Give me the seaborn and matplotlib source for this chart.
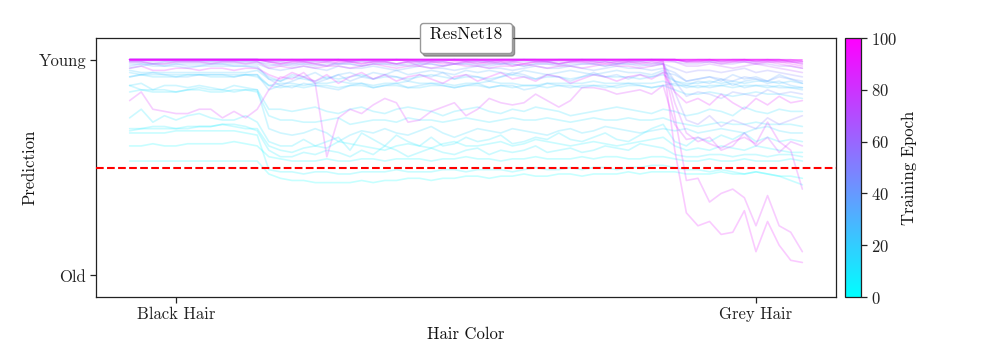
import numpy as np
import pandas as pd
import matplotlib
matplotlib.use("Agg")
import matplotlib.pyplot as plt
import seaborn as sns
from matplotlib.cm import ScalarMappable
from matplotlib.colors import Normalize

# ---------------- data ----------------
# 59 points along the hair-colour path: 12 black-hair images, 35 intermediate, 12 grey-hair images
tick_positions = [4, 54]
tick_labels = ["Black Hair", "Grey Hair"]
y_ticks = [0, 1]
y_labels = ["Old", "Young"]

ep00 = [0.53,0.53,0.53,0.53,0.53,0.53,0.53,0.53,0.53,0.53,0.53,0.53] + \
       [0.47,0.45,0.44,0.44,0.43,0.43,0.43,0.43,0.44,0.43,0.44,0.44,0.45,0.45,0.44,0.45,0.45,0.46,0.46,0.45,0.46,0.46,0.47,0.46,0.46,0.47,0.47,0.46,0.47,0.47,0.47,0.48,0.47,0.48,0.48] + \
       [0.48,0.47,0.47,0.47,0.48,0.47,0.47,0.48,0.47,0.46,0.46,0.45]
ep02 = [0.60,0.60,0.61,0.60,0.60,0.61,0.61,0.61,0.61,0.62,0.61,0.60] + \
       [0.55,0.54,0.53,0.53,0.53,0.54,0.53,0.53,0.54,0.54,0.53,0.54,0.54,0.54,0.53,0.54,0.54,0.55,0.54,0.54,0.53,0.54,0.54,0.55,0.54,0.54,0.54,0.55,0.54,0.55,0.55,0.54,0.54,0.55,0.55] + \
       [0.54,0.53,0.53,0.54,0.53,0.53,0.54,0.53,0.53,0.53,0.54,0.53]
ep04 = [0.66,0.66,0.66,0.66,0.67,0.67,0.67,0.67,0.67,0.67,0.66,0.65] + \
       [0.49,0.48,0.48,0.47,0.48,0.48,0.47,0.47,0.48,0.48,0.48,0.49,0.48,0.48,0.48,0.49,0.49,0.48,0.49,0.49,0.49,0.48,0.49,0.50,0.49,0.49,0.50,0.49,0.50,0.50,0.49,0.50,0.50,0.51,0.51] + \
       [0.50,0.49,0.49,0.48,0.49,0.48,0.47,0.48,0.47,0.46,0.44,0.42]
ep06 = [0.68,0.68,0.68,0.68,0.68,0.69,0.69,0.69,0.70,0.69,0.68,0.68] + \
       [0.60,0.58,0.57,0.59,0.60,0.59,0.62,0.61,0.60,0.59,0.58,0.60,0.61,0.60,0.59,0.61,0.62,0.60,0.60,0.61,0.62,0.60,0.61,0.63,0.62,0.61,0.60,0.61,0.62,0.61,0.60,0.61,0.62,0.63,0.64] + \
       [0.60,0.58,0.59,0.58,0.60,0.59,0.58,0.60,0.59,0.58,0.57,0.57]
ep08 = [0.67,0.68,0.69,0.69,0.68,0.68,0.69,0.69,0.70,0.70,0.69,0.67] + \
       [0.58,0.55,0.55,0.57,0.56,0.58,0.57,0.55,0.58,0.56,0.60,0.58,0.55,0.57,0.59,0.57,0.56,0.58,0.59,0.56,0.58,0.57,0.58,0.60,0.57,0.58,0.59,0.57,0.58,0.60,0.59,0.58,0.61,0.60,0.59] + \
       [0.56,0.55,0.55,0.56,0.56,0.55,0.56,0.56,0.55,0.56,0.56,0.55]
ep10 = [0.73,0.77,0.71,0.74,0.72,0.74,0.75,0.73,0.72,0.72,0.74,0.71] + \
       [0.62,0.60,0.60,0.63,0.60,0.62,0.64,0.58,0.66,0.63,0.60,0.65,0.62,0.60,0.64,0.60,0.61,0.64,0.62,0.63,0.65,0.61,0.62,0.64,0.63,0.66,0.63,0.62,0.64,0.66,0.63,0.62,0.65,0.68,0.70] + \
       [0.62,0.60,0.64,0.62,0.65,0.63,0.66,0.62,0.64,0.62,0.63,0.62]
ep12 = [0.85,0.86,0.85,0.85,0.85,0.86,0.86,0.85,0.85,0.86,0.86,0.85] + \
       [0.74,0.72,0.72,0.71,0.71,0.72,0.73,0.70,0.71,0.72,0.72,0.71,0.73,0.72,0.72,0.71,0.72,0.73,0.72,0.71,0.72,0.73,0.72,0.72,0.73,0.72,0.71,0.72,0.73,0.72,0.72,0.73,0.72,0.72,0.73] + \
       [0.71,0.70,0.69,0.70,0.71,0.70,0.70,0.71,0.70,0.70,0.70,0.69]
ep14 = [0.88,0.86,0.86,0.86,0.85,0.86,0.87,0.86,0.86,0.85,0.86,0.86] + \
       [0.77,0.77,0.76,0.77,0.78,0.76,0.75,0.77,0.78,0.76,0.75,0.77,0.78,0.77,0.76,0.74,0.76,0.77,0.78,0.76,0.75,0.77,0.76,0.78,0.77,0.76,0.74,0.75,0.76,0.77,0.78,0.77,0.76,0.75,0.77] + \
       [0.76,0.74,0.75,0.77,0.76,0.74,0.78,0.76,0.75,0.77,0.76,0.76]
ep16 = [0.88,0.89,0.86,0.88,0.88,0.87,0.88,0.87,0.86,0.88,0.87,0.86] + \
       [0.68,0.66,0.65,0.66,0.68,0.66,0.62,0.65,0.67,0.66,0.68,0.66,0.65,0.67,0.69,0.66,0.64,0.66,0.68,0.67,0.66,0.68,0.67,0.66,0.65,0.67,0.68,0.66,0.67,0.69,0.68,0.67,0.66,0.67,0.68] + \
       [0.67,0.68,0.66,0.67,0.68,0.67,0.66,0.68,0.69,0.67,0.66,0.66]
ep18 = [0.92,0.93,0.92,0.92,0.92,0.93,0.93,0.92,0.92,0.92,0.93,0.92] + \
       [0.88,0.87,0.88,0.87,0.88,0.88,0.87,0.88,0.88,0.87,0.88,0.88,0.87,0.87,0.88,0.88,0.87,0.88,0.88,0.87,0.88,0.87,0.88,0.88,0.87,0.88,0.88,0.87,0.88,0.88,0.87,0.88,0.88,0.87,0.88] + \
       [0.86,0.84,0.84,0.85,0.84,0.83,0.84,0.85,0.84,0.84,0.83,0.82]
ep20 = [0.94,0.93,0.93,0.93,0.93,0.93,0.93,0.93,0.93,0.93,0.93,0.93] + \
       [0.88,0.89,0.89,0.88,0.89,0.89,0.90,0.89,0.89,0.88,0.89,0.89,0.90,0.89,0.89,0.89,0.88,0.89,0.89,0.90,0.89,0.89,0.88,0.88,0.89,0.89,0.89,0.89,0.90,0.89,0.89,0.89,0.89,0.89,0.90] + \
       [0.88,0.88,0.87,0.88,0.88,0.87,0.88,0.88,0.87,0.88,0.87,0.87]
ep22 = [0.95,0.94,0.94,0.94,0.94,0.94,0.94,0.94,0.94,0.94,0.94,0.95] + \
       [0.91,0.90,0.92,0.91,0.90,0.92,0.91,0.92,0.93,0.91,0.92,0.92,0.91,0.92,0.93,0.92,0.91,0.92,0.92,0.91,0.92,0.93,0.92,0.91,0.92,0.92,0.91,0.92,0.93,0.92,0.92,0.92,0.91,0.92,0.93] + \
       [0.90,0.89,0.89,0.90,0.89,0.90,0.89,0.90,0.90,0.89,0.90,0.89]
ep25 = [0.92,0.93,0.94,0.93,0.92,0.92,0.93,0.93,0.93,0.92,0.93,0.93] + \
       [0.86,0.88,0.87,0.89,0.88,0.87,0.86,0.88,0.89,0.87,0.88,0.89,0.87,0.88,0.89,0.88,0.87,0.88,0.89,0.87,0.88,0.88,0.86,0.87,0.89,0.88,0.87,0.88,0.88,0.87,0.88,0.89,0.88,0.87,0.88] + \
       [0.89,0.87,0.88,0.87,0.88,0.89,0.87,0.88,0.88,0.87,0.87,0.86]
ep30 = [0.96,0.97,0.98,0.97,0.97,0.96,0.97,0.97,0.97,0.97,0.97,0.96] + \
       [0.92,0.90,0.93,0.92,0.94,0.91,0.93,0.94,0.92,0.94,0.93,0.95,0.93,0.94,0.95,0.94,0.93,0.95,0.94,0.95,0.94,0.93,0.95,0.94,0.93,0.94,0.95,0.94,0.93,0.94,0.95,0.94,0.94,0.93,0.95] + \
       [0.90,0.88,0.90,0.89,0.91,0.88,0.90,0.91,0.89,0.90,0.88,0.87]
ep35 = [0.97,0.98,0.97,0.97,0.98,0.97,0.97,0.98,0.98,0.97,0.97,0.97] + \
       [0.91,0.88,0.90,0.92,0.89,0.91,0.93,0.90,0.92,0.91,0.93,0.92,0.90,0.93,0.92,0.94,0.91,0.93,0.92,0.90,0.92,0.94,0.93,0.91,0.93,0.92,0.90,0.92,0.94,0.92,0.93,0.91,0.93,0.92,0.94] + \
       [0.93,0.90,0.91,0.92,0.90,0.93,0.91,0.92,0.90,0.93,0.91,0.89]
ep40 = [0.98,0.98,0.98,0.98,0.98,0.98,0.98,0.98,0.98,0.98,0.98,0.98] + \
       [0.96,0.95,0.96,0.97,0.96,0.95,0.97,0.96,0.96,0.97,0.96,0.95,0.96,0.97,0.96,0.96,0.95,0.96,0.97,0.96,0.96,0.95,0.96,0.97,0.96,0.96,0.97,0.96,0.95,0.96,0.97,0.96,0.96,0.95,0.96] + \
       [0.94,0.90,0.91,0.92,0.91,0.90,0.92,0.91,0.90,0.92,0.91,0.90]
ep45 = [0.99,0.99,0.98,0.99,0.99,0.99,0.99,0.99,0.99,0.99,0.99,0.99] + \
       [0.97,0.98,0.97,0.98,0.98,0.97,0.98,0.98,0.97,0.98,0.98,0.98,0.97,0.98,0.98,0.97,0.98,0.98,0.98,0.97,0.98,0.98,0.97,0.98,0.98,0.98,0.97,0.98,0.98,0.97,0.98,0.98,0.98,0.97,0.98] + \
       [0.90,0.83,0.85,0.84,0.82,0.85,0.84,0.83,0.86,0.84,0.85,0.84]
ep50 = [0.99,0.99,0.99,0.99,0.99,0.99,0.99,0.99,0.99,0.99,0.99,0.99] + \
       [0.98,0.97,0.98,0.98,0.97,0.98,0.98,0.98,0.97,0.98,0.98,0.97,0.98,0.98,0.98,0.97,0.98,0.98,0.97,0.98,0.98,0.98,0.97,0.98,0.98,0.97,0.98,0.98,0.98,0.97,0.98,0.98,0.97,0.98,0.98] + \
       [0.96,0.94,0.95,0.95,0.94,0.95,0.96,0.94,0.95,0.94,0.93,0.92]
ep55 = [1.00,1.00,1.00,1.00,1.00,1.00,1.00,1.00,1.00,1.00,1.00,1.00] + \
       [0.99,0.99,0.98,0.99,0.99,0.99,0.98,0.99,0.99,0.99,0.99,0.98,0.99,0.99,0.99,0.99,0.98,0.99,0.99,0.99,0.98,0.99,0.99,0.99,0.99,0.98,0.99,0.99,0.99,0.99,0.98,0.99,0.99,0.99,0.98] + \
       [0.85,0.72,0.70,0.74,0.69,0.72,0.70,0.68,0.73,0.70,0.72,0.74]
ep60 = [1.00,1.00,1.00,1.00,1.00,1.00,1.00,1.00,1.00,1.00,1.00,1.00] + \
       [1.00,1.00,0.99,1.00,1.00,1.00,1.00,0.99,1.00,1.00,1.00,1.00,1.00,0.99,1.00,1.00,1.00,1.00,1.00,0.99,1.00,1.00,1.00,1.00,0.99,1.00,1.00,1.00,1.00,1.00,0.99,1.00,1.00,1.00,1.00] + \
       [0.99,0.98,0.98,0.99,0.98,0.98,0.99,0.98,0.98,0.97,0.97,0.96]
ep65 = [1.00,1.00,1.00,1.00,1.00,1.00,1.00,1.00,1.00,1.00,1.00,1.00] + \
       [1.00,1.00,1.00,1.00,1.00,1.00,1.00,1.00,1.00,1.00,1.00,1.00,1.00,1.00,1.00,1.00,1.00,1.00,1.00,1.00,1.00,1.00,1.00,1.00,1.00,1.00,1.00,1.00,1.00,1.00,1.00,1.00,1.00,1.00,1.00] + \
       [1.00,0.99,0.99,0.99,0.99,0.99,0.99,0.99,0.99,0.99,0.99,0.98]
ep70 = [1.00,1.00,1.00,1.00,1.00,1.00,1.00,1.00,1.00,1.00,1.00,1.00] + \
       [0.99,0.99,1.00,0.99,0.99,0.99,1.00,0.99,0.99,0.99,0.99,1.00,0.99,0.99,0.99,0.99,1.00,0.99,0.99,0.99,0.99,0.99,1.00,0.99,0.99,0.99,0.99,1.00,0.99,0.99,0.99,0.99,0.99,1.00,0.99] + \
       [0.99,0.97,0.97,0.98,0.97,0.96,0.97,0.98,0.97,0.96,0.95,0.94]
ep75 = [1.00,1.00,1.00,1.00,1.00,1.00,1.00,1.00,1.00,1.00,1.00,1.00] + \
       [1.00,1.00,1.00,1.00,1.00,1.00,1.00,1.00,1.00,1.00,1.00,1.00,1.00,1.00,1.00,1.00,1.00,1.00,1.00,1.00,1.00,1.00,1.00,1.00,1.00,1.00,1.00,1.00,1.00,1.00,1.00,1.00,1.00,1.00,1.00] + \
       [1.00,0.99,1.00,1.00,0.99,1.00,1.00,0.99,1.00,1.00,0.99,0.99]
ep80 = [1.00,1.00,1.00,1.00,1.00,1.00,1.00,1.00,1.00,1.00,1.00,1.00] + \
       [0.99,0.98,0.99,0.99,0.98,0.97,0.99,0.99,0.98,0.99,0.99,0.98,0.99,0.97,0.99,0.99,0.98,0.99,0.99,0.98,0.99,0.97,0.98,0.99,0.99,0.98,0.99,0.99,0.98,0.99,0.98,0.99,0.99,0.98,0.99] + \
       [0.80,0.66,0.62,0.64,0.58,0.60,0.66,0.60,0.64,0.57,0.62,0.60]
ep82 = [1.00,1.00,1.00,1.00,1.00,1.00,1.00,1.00,1.00,1.00,1.00,1.00] + \
       [1.00,1.00,1.00,1.00,1.00,1.00,1.00,1.00,1.00,1.00,1.00,1.00,1.00,1.00,1.00,1.00,1.00,1.00,1.00,1.00,1.00,1.00,1.00,1.00,1.00,1.00,1.00,1.00,1.00,1.00,1.00,1.00,1.00,1.00,1.00] + \
       [1.00,1.00,1.00,1.00,1.00,1.00,1.00,1.00,1.00,1.00,1.00,0.99]
ep84 = [1.00,1.00,1.00,1.00,1.00,1.00,1.00,1.00,1.00,1.00,1.00,1.00] + \
       [1.00,1.00,1.00,1.00,1.00,1.00,1.00,1.00,1.00,1.00,1.00,1.00,1.00,1.00,1.00,1.00,1.00,1.00,1.00,1.00,1.00,1.00,1.00,1.00,1.00,1.00,1.00,1.00,1.00,1.00,1.00,1.00,1.00,1.00,1.00] + \
       [1.00,0.99,0.99,0.99,0.98,0.99,0.99,0.98,0.99,0.98,0.97,0.96]
ep85 = [0.81,0.85,0.77,0.76,0.75,0.75,0.77,0.77,0.73,0.76,0.73,0.77] + \
       [0.86,0.92,0.91,0.94,0.89,0.55,0.73,0.77,0.75,0.79,0.82,0.80,0.71,0.72,0.76,0.78,0.80,0.74,0.77,0.82,0.80,0.79,0.80,0.84,0.81,0.78,0.81,0.87,0.87,0.86,0.84,0.85,0.86,0.84,0.88] + \
       [0.70,0.63,0.64,0.61,0.59,0.62,0.64,0.61,0.71,0.62,0.58,0.40]
ep86 = [1.00,1.00,1.00,1.00,1.00,1.00,1.00,1.00,1.00,1.00,1.00,1.00] + \
       [1.00,1.00,1.00,1.00,1.00,1.00,1.00,1.00,1.00,1.00,1.00,1.00,1.00,1.00,1.00,1.00,1.00,1.00,1.00,1.00,1.00,1.00,1.00,1.00,1.00,1.00,1.00,1.00,1.00,1.00,1.00,1.00,1.00,1.00,1.00] + \
       [1.00,1.00,1.00,1.00,1.00,1.00,1.00,1.00,1.00,1.00,1.00,1.00]
ep88 = [0.99,0.99,0.98,0.98,0.99,0.99,0.99,0.98,0.99,0.99,0.98,0.99] + \
       [0.96,0.97,0.96,0.97,0.96,0.97,0.97,0.96,0.97,0.98,0.97,0.96,0.97,0.97,0.96,0.97,0.98,0.97,0.97,0.96,0.97,0.97,0.98,0.97,0.96,0.97,0.97,0.96,0.97,0.98,0.97,0.97,0.96,0.97,0.98] + \
       [0.74,0.44,0.45,0.34,0.38,0.40,0.36,0.23,0.37,0.23,0.20,0.11]
ep90 = [0.96,0.97,0.95,0.95,0.96,0.96,0.95,0.96,0.96,0.95,0.96,0.96] + \
       [0.93,0.91,0.94,0.92,0.90,0.93,0.89,0.92,0.94,0.91,0.93,0.90,0.92,0.93,0.91,0.89,0.92,0.93,0.90,0.92,0.94,0.91,0.92,0.90,0.93,0.92,0.89,0.91,0.93,0.92,0.90,0.92,0.93,0.91,0.94] + \
       [0.85,0.80,0.82,0.79,0.84,0.80,0.77,0.82,0.79,0.83,0.80,0.81]
ep92 = [1.00,1.00,1.00,1.00,1.00,1.00,1.00,1.00,1.00,1.00,1.00,1.00] + \
       [0.99,0.98,0.99,0.99,0.98,0.99,0.99,0.99,0.98,0.99,0.99,0.98,0.99,0.99,0.99,0.98,0.99,0.99,0.98,0.99,0.99,0.99,0.98,0.99,0.99,0.98,0.99,0.99,0.99,0.98,0.99,0.99,0.98,0.99,0.99] + \
       [0.58,0.29,0.23,0.25,0.19,0.20,0.30,0.11,0.25,0.14,0.07,0.06]
ep94 = [1.00,1.00,1.00,1.00,1.00,1.00,1.00,1.00,1.00,1.00,1.00,1.00] + \
       [1.00,1.00,1.00,1.00,1.00,1.00,1.00,1.00,1.00,1.00,1.00,1.00,1.00,1.00,1.00,1.00,1.00,1.00,1.00,1.00,1.00,1.00,1.00,1.00,1.00,1.00,1.00,1.00,1.00,1.00,1.00,1.00,1.00,1.00,1.00] + \
       [1.00,1.00,1.00,1.00,1.00,1.00,1.00,1.00,1.00,0.99,0.99,0.98]
ep95 = [1.00,1.00,1.00,1.00,1.00,1.00,1.00,1.00,1.00,1.00,1.00,1.00] + \
       [1.00,1.00,1.00,1.00,1.00,1.00,1.00,1.00,1.00,1.00,1.00,1.00,1.00,1.00,1.00,1.00,1.00,1.00,1.00,1.00,1.00,1.00,1.00,1.00,1.00,1.00,1.00,1.00,1.00,1.00,1.00,1.00,1.00,1.00,1.00] + \
       [1.00,0.99,0.99,1.00,0.99,0.99,1.00,0.99,0.99,0.99,0.98,0.97]
ep96 = [1.00,1.00,1.00,1.00,1.00,1.00,1.00,1.00,1.00,1.00,1.00,1.00] + \
       [1.00,1.00,1.00,1.00,1.00,1.00,1.00,1.00,1.00,1.00,1.00,1.00,1.00,1.00,1.00,1.00,1.00,1.00,1.00,1.00,1.00,1.00,1.00,1.00,1.00,1.00,1.00,1.00,1.00,1.00,1.00,1.00,1.00,1.00,1.00] + \
       [1.00,1.00,1.00,1.00,1.00,1.00,1.00,1.00,1.00,1.00,1.00,1.00]
ep98 = [1.00,1.00,1.00,1.00,1.00,1.00,1.00,1.00,1.00,1.00,1.00,1.00] + \
       [1.00,1.00,1.00,1.00,1.00,1.00,1.00,1.00,1.00,1.00,1.00,1.00,1.00,1.00,1.00,1.00,1.00,1.00,1.00,1.00,1.00,1.00,1.00,1.00,1.00,1.00,1.00,1.00,1.00,1.00,1.00,1.00,1.00,1.00,1.00] + \
       [1.00,1.00,1.00,1.00,1.00,1.00,1.00,1.00,1.00,1.00,0.99,0.99]
ep100 = [1.00,1.00,1.00,1.00,1.00,1.00,1.00,1.00,1.00,1.00,1.00,1.00] + \
        [1.00,1.00,1.00,1.00,1.00,1.00,1.00,1.00,1.00,1.00,1.00,1.00,1.00,1.00,1.00,1.00,1.00,1.00,1.00,1.00,1.00,1.00,1.00,1.00,1.00,1.00,1.00,1.00,1.00,1.00,1.00,1.00,1.00,1.00,1.00] + \
        [1.00,1.00,1.00,1.00,1.00,1.00,1.00,1.00,1.00,1.00,1.00,1.00]

epochs = [0, 2, 4, 6, 8, 10, 12, 14, 16, 18, 20, 22, 25, 30, 35, 40, 45, 50, 55,
          60, 65, 70, 75, 80, 82, 84, 85, 86, 88, 90, 92, 94, 95, 96, 98, 100]
series = [ep00, ep02, ep04, ep06, ep08, ep10, ep12, ep14, ep16, ep18, ep20, ep22, ep25,
          ep30, ep35, ep40, ep45, ep50, ep55, ep60, ep65, ep70, ep75, ep80, ep82, ep84,
          ep85, ep86, ep88, ep90, ep92, ep94, ep95, ep96, ep98, ep100]

# ---------------- table ----------------
rows = []
for e, s in zip(epochs, series):
    for i, v in enumerate(s):
        rows.append((e, i, v))
df = pd.DataFrame(rows, columns=["epoch", "step", "pred"])

# ---------------- style ----------------
sns.set_theme(style="ticks")
plt.rcParams.update({
    "font.family": "serif",
    "font.serif": ["cmr10", "DejaVu Serif"],
    "mathtext.fontset": "cm",
    "axes.formatter.use_mathtext": True,
    "axes.unicode_minus": False,
    "font.size": 12,
    "axes.edgecolor": "#222222",
    "axes.linewidth": 0.9,
    "text.color": "#111111",
    "xtick.color": "#222222",
    "ytick.color": "#222222",
    "axes.labelcolor": "#111111",
    "xtick.major.size": 4,
    "ytick.major.size": 4,
    "xtick.major.pad": 3,
    "ytick.major.pad": 3,
    "xtick.major.width": 0.9,
    "ytick.major.width": 0.9,
    "axes.labelpad": 3,
})

fig = plt.figure(figsize=(9.97, 3.63), dpi=100)
ax = fig.add_axes([0.0963, 0.1818, 0.7422, 0.7135])
cax = fig.add_axes([0.8475, 0.1818, 0.0161, 0.7135])

sns.lineplot(data=df, x="step", y="pred", hue="epoch", units="epoch", estimator=None,
             palette="cool", hue_norm=(0, 100), alpha=0.22, linewidth=1.2,
             legend=False, ax=ax)

ax.axhline(0.5, color="red", linestyle="--", linewidth=1.5, zorder=5)

ax.set_ylim(-0.1, 1.1)
ax.set_xticks(tick_positions)
ax.set_xticklabels(tick_labels, fontsize=12)
ax.set_yticks(y_ticks)
ax.set_yticklabels(y_labels, fontsize=12)
ax.set_xlabel("Hair Color", fontsize=12)
ax.set_ylabel("Prediction", fontsize=12, labelpad=1)
for sp in ax.spines.values():
    sp.set_visible(True)

leg = ax.legend(handles=[], title=" ResNet18 ", loc="center", bbox_to_anchor=(0.5, 1.0),
                shadow=True, fancybox=True, framealpha=1, title_fontsize=12.5,
                borderpad=0.25)
leg.get_frame().set_edgecolor("#999999")
leg.set_zorder(10)

sm = ScalarMappable(norm=Normalize(0, 100), cmap="cool")
cb = fig.colorbar(sm, cax=cax)
cb.set_ticks([0, 20, 40, 60, 80, 100])
cb.ax.tick_params(labelsize=12, length=4, pad=3)
cb.set_label("Training Epoch", fontsize=12, labelpad=3)
cb.outline.set_linewidth(0.9)

fig.savefig("out.png", dpi=100)
